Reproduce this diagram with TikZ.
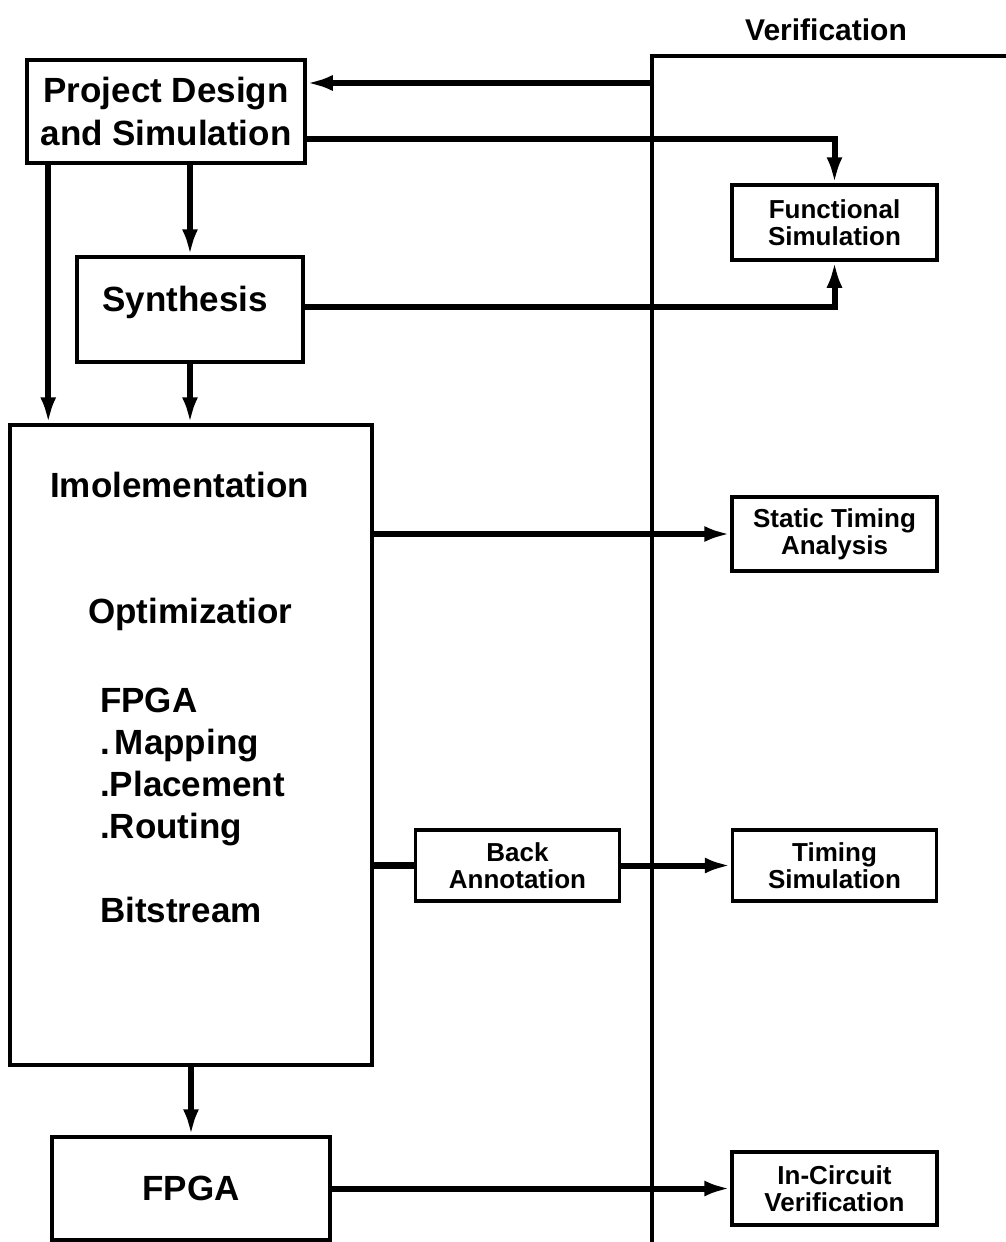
\documentclass[tikz,border=0pt]{standalone}
\usepackage{fontspec}
\setmainfont{Liberation Sans}
\usetikzlibrary{arrows.meta}

\begin{document}
\begin{tikzpicture}[x=1pt,y=-1pt,
    blk/.style={draw,line width=3.5pt,inner sep=0pt,align=center},
    bigtxt/.style={font=\fontsize{35}{43}\selectfont\bfseries},
    smalltxt/.style={font=\fontsize{26}{27}\selectfont\bfseries},
    impltxt/.style={bigtxt,inner sep=0pt,anchor=base west},
    flow/.style={line width=6pt,-{Latex[length=26pt,width=16pt]}},
    link/.style={line width=7pt},
    frame/.style={line width=3.5pt}]
  \useasboundingbox (0,0) rectangle (1006,1242);
  % verification column
  \coordinate (vtop) at (652,56);
  \coordinate (vbot) at (652,1242);
  \coordinate (htop) at (1006,56);
  \coordinate (tap) at (652,83);
  \draw[frame] (vbot) -- (vtop) -- (htop);
  \node[font=\fontsize{30}{32}\selectfont\bfseries,anchor=base] (verif) at (826,40) {Verification};
  % main flow
  \node[blk,bigtxt,minimum width=278,minimum height=103] (pd) at (166,111.5) {Project Design\\and Simulation};
  \node[blk,minimum width=226,minimum height=105] (syn) at (190,309.5) {};
  \node[bigtxt,anchor=base] (syntxt) at (185,311) {Synthesis};
  \node[blk,minimum width=362,minimum height=640] (impl) at (191,745) {};
  \node[impltxt] (impltitle) at (50,497) {Imolementation};
  \node[impltxt] (opt) at (88,623) {Optimizatior};
  \foreach \t [count=\i] in {FPGA,.\kern5pt Mapping,.Placement,.Routing}
    \node[impltxt] (step\i) at (100,670+42*\i) {\t};
  \node[impltxt] (bits) at (100,922) {Bitstream};
  \node[blk,bigtxt,minimum width=278,minimum height=103] (fpga) at (191,1188.5) {FPGA};
  % side boxes
  \node[blk,smalltxt,minimum width=205,minimum height=75] (fs) at (834.5,222.5) {Functional\\Simulation};
  \node[blk,smalltxt,minimum width=205,minimum height=74] (sta) at (834.5,534) {Static Timing\\Analysis};
  \node[blk,smalltxt,minimum width=204,minimum height=71] (ba) at (517.5,865.5) {Back\\Annotation};
  \node[blk,smalltxt,minimum width=204,minimum height=71] (ts) at (834.5,865.5) {Timing\\Simulation};
  \node[blk,smalltxt,minimum width=205,minimum height=73] (icv) at (834.5,1188.5) {In-Circuit\\Verification};
  % connectors
  \draw[flow] (tap) -- (tap -| pd.east);
  \draw[flow] ([yshift=-27pt]pd.east) -| (fs.north);
  \draw[flow] ([yshift=3pt]syn.east) -| (fs.south);
  \draw[flow] (syn.north |- pd.south) -- (syn.north);
  \draw[flow] ([xshift=23pt]pd.south west) -- ([xshift=23pt]pd.south west |- impl.north);
  \draw[flow] (syn.south) -- (syn.south |- impl.north);
  \draw[flow] (impl.east |- sta.west) -- (sta.west);
  \draw[link] (impl.east |- ba.west) -- (ba.west);
  \draw[flow] (ba.east) -- (ts.west);
  \draw[flow] (fpga.north |- impl.south) -- (fpga.north);
  \draw[flow] (fpga.east |- icv.west) -- (icv.west);
\end{tikzpicture}
\end{document}
